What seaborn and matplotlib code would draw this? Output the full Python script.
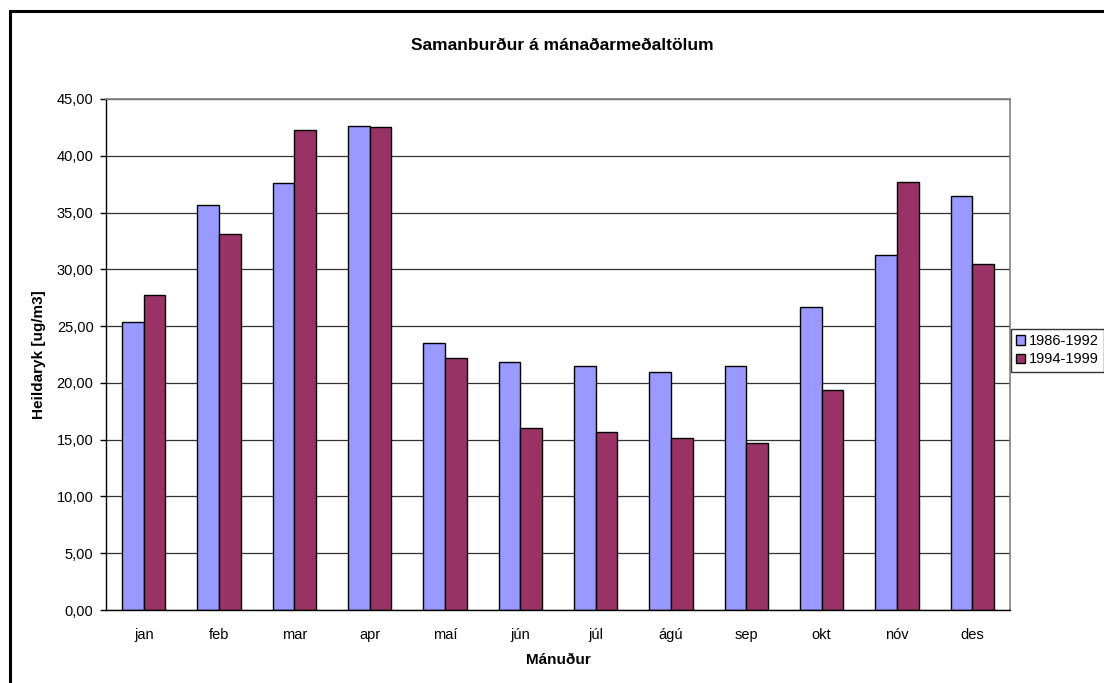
import matplotlib
matplotlib.use("Agg")
import matplotlib.pyplot as plt
import seaborn as sns
import pandas as pd
import numpy as np
from matplotlib.patches import Rectangle
from matplotlib.ticker import FuncFormatter

# manaðarmeðaltöl, lesin af myndinni
manudir = ["jan", "feb", "mar", "apr", "maí", "jún", "júl", "ágú", "sep", "okt", "nóv", "des"]
timabil = ["1986-1992", "1994-1999"]
gildi_1986_1992 = [25.4, 35.7, 37.6, 42.65, 23.5, 21.85, 21.45, 20.97, 21.47, 26.72, 31.25, 36.5]
gildi_1994_1999 = [27.7, 33.15, 42.3, 42.55, 22.15, 16.07, 15.65, 15.15, 14.74, 19.38, 37.68, 30.45]
litir = ["#9999FF", "#993366"]

df = pd.DataFrame({
    "Mánuður": manudir * 2,
    "gildi": gildi_1986_1992 + gildi_1994_1999,
    "tímabil": [timabil[0]] * 12 + [timabil[1]] * 12,
})

sns.set_style("white")
plt.rcParams["font.family"] = ["Liberation Sans", "DejaVu Sans"]
plt.rcParams["text.color"] = "black"
plt.rcParams["axes.labelcolor"] = "black"
plt.rcParams["xtick.color"] = "black"
plt.rcParams["ytick.color"] = "black"

fig = plt.figure(figsize=(11.04, 6.83), dpi=100)
ax = fig.add_axes([106 / 1104, 1 - 610 / 683, 904 / 1104, 511 / 683])

sns.barplot(data=df, x="Mánuður", y="gildi", hue="tímabil", palette=litir,
            width=0.575, saturation=1, edgecolor="black", linewidth=1, ax=ax)

ax.set_ylim(0, 45)
ax.set_xlim(-0.5, 11.5)
ax.set_yticks(np.arange(0, 46, 5))
ax.yaxis.set_major_formatter(FuncFormatter(lambda v, p: f"{v:.2f}".replace(".", ",")))
ax.set_axisbelow(True)
ax.yaxis.grid(True, color="#333333", linewidth=0.9)

ax.set_xticks(np.arange(-0.5, 12, 1), minor=True)
ax.tick_params(axis="x", which="major", length=0, pad=13, labelsize=10.5, labelcolor="black")
ax.tick_params(axis="x", which="minor", length=4, width=1, direction="out", color="black")
ax.tick_params(axis="y", length=4, width=1, direction="out", color="black", pad=5,
               labelsize=10.5, labelcolor="black", left=True)

for s in ["left", "bottom"]:
    ax.spines[s].set_color("black")
    ax.spines[s].set_linewidth(1)
for s in ["top", "right"]:
    ax.spines[s].set_visible(True)
    ax.spines[s].set_color("#808080")
    ax.spines[s].set_linewidth(1.2)

ax.set_xlabel("Mánuður", fontsize=11, fontweight="bold", labelpad=8, color="black")
ax.set_ylabel("Heildaryk [ug/m3]", fontsize=11, fontweight="bold", color="black")
ax.yaxis.set_label_coords(-0.066, 0.5)

fig.text(562 / 1104, 1 - 46 / 683, "Samanburður á mánaðarmeðaltölum",
         ha="center", va="center", fontsize=12.5, fontweight="bold", color="black")

handles, labels = ax.get_legend_handles_labels()
ax.get_legend().remove()
leg = fig.legend(handles, labels, loc="upper left", bbox_to_anchor=(1011 / 1104, 1 - 329 / 683),
                 fontsize=10.5, frameon=True, fancybox=False, edgecolor="#333333", framealpha=1,
                 borderaxespad=0, borderpad=0.35, labelspacing=0.3, handlelength=0.6,
                 handleheight=0.6, handletextpad=0.3, labelcolor="black")
leg.get_frame().set_linewidth(1)

# ramminn utan um myndina
fig.add_artist(Rectangle((9.7 / 1104, -0.1), 1.2, 1.1 - 10.7 / 683, transform=fig.transFigure,
                         fill=False, edgecolor="black", linewidth=2.2, clip_on=False))

fig.savefig("out.png", dpi=100)
